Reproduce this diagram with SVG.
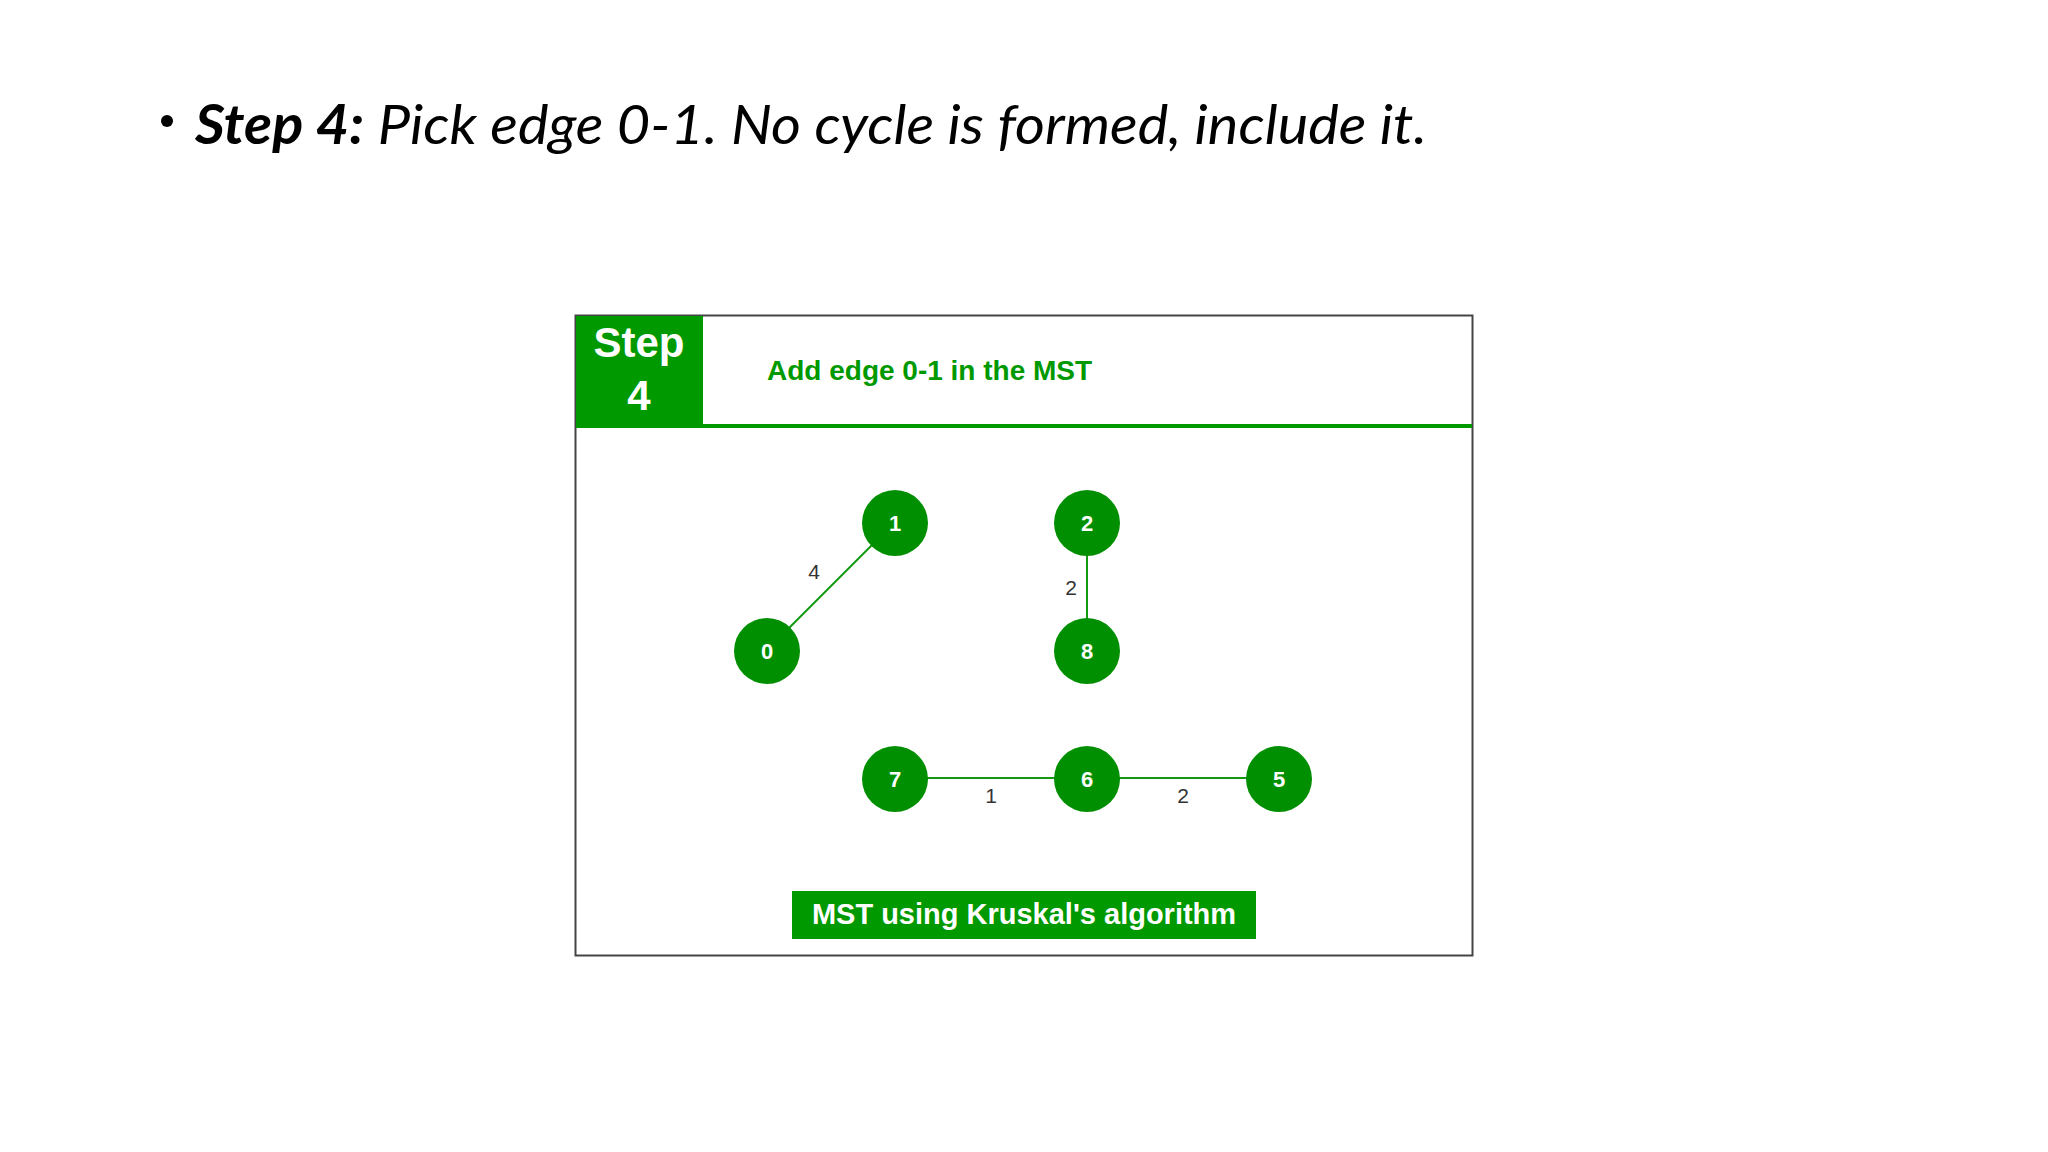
<svg xmlns="http://www.w3.org/2000/svg" width="2048" height="1152" viewBox="0 0 2048 1152">
<style>
.n circle{fill:#008f00}
.n text{fill:#fff;font:bold 22px "Liberation Sans",Arial,sans-serif;text-anchor:middle}
.e line{stroke:#119911;stroke-width:2}
.w{fill:#333;font:21px "Liberation Sans",Arial,sans-serif;text-anchor:middle}
</style>
<rect width="2048" height="1152" fill="#fff"/>
<circle cx="167" cy="121" r="6" fill="#000"/>
<text x="195" y="144" font-family="Lato,'Open Sans',sans-serif" font-size="55" font-style="italic" fill="#000" textLength="1232" lengthAdjust="spacingAndGlyphs"><tspan font-weight="bold">Step 4:</tspan> Pick edge 0-1. No cycle is formed, include it.</text>
<rect x="575.5" y="315.5" width="897" height="640" fill="#fff" stroke="#444" stroke-width="2"/>
<rect x="576" y="316" width="127" height="110" fill="#009900"/>
<rect x="576" y="424" width="896" height="4" fill="#009900"/>
<text x="639" y="357" font-family="Liberation Sans,Arial,sans-serif" font-weight="bold" font-size="42" fill="#fff" text-anchor="middle">Step</text>
<text x="639" y="410" font-family="Liberation Sans,Arial,sans-serif" font-weight="bold" font-size="42" fill="#fff" text-anchor="middle">4</text>
<text x="767" y="380" font-family="Liberation Sans,Arial,sans-serif" font-weight="bold" font-size="28" fill="#009900">Add edge 0-1 in the MST</text>
<g id="connectors" class="e">
<line x1="767" y1="650" x2="895" y2="522"/>
<line x1="1087" y1="522" x2="1087" y2="650"/>
<line x1="895" y1="778" x2="1279" y2="778"/>
</g>
<text class="w" x="814" y="579">4</text>
<text class="w" x="1071" y="595">2</text>
<text class="w" x="991" y="803">1</text>
<text class="w" x="1183" y="803">2</text>
<g id="node1" class="n"><circle cx="895" cy="523" r="33"/><text x="895" y="531">1</text></g>
<g id="node2" class="n"><circle cx="1087" cy="523" r="33"/><text x="1087" y="531">2</text></g>
<g id="node0" class="n"><circle cx="767" cy="651" r="33"/><text x="767" y="659">0</text></g>
<g id="node8" class="n"><circle cx="1087" cy="651" r="33"/><text x="1087" y="659">8</text></g>
<g id="node7" class="n"><circle cx="895" cy="779" r="33"/><text x="895" y="787">7</text></g>
<g id="node6" class="n"><circle cx="1087" cy="779" r="33"/><text x="1087" y="787">6</text></g>
<g id="node5" class="n"><circle cx="1279" cy="779" r="33"/><text x="1279" y="787">5</text></g>
<rect x="792" y="891" width="464" height="48" fill="#009900"/>
<text x="1024" y="924" font-family="Liberation Sans,Arial,sans-serif" font-weight="bold" font-size="29" fill="#fff" text-anchor="middle">MST using Kruskal's algorithm</text>
</svg>
